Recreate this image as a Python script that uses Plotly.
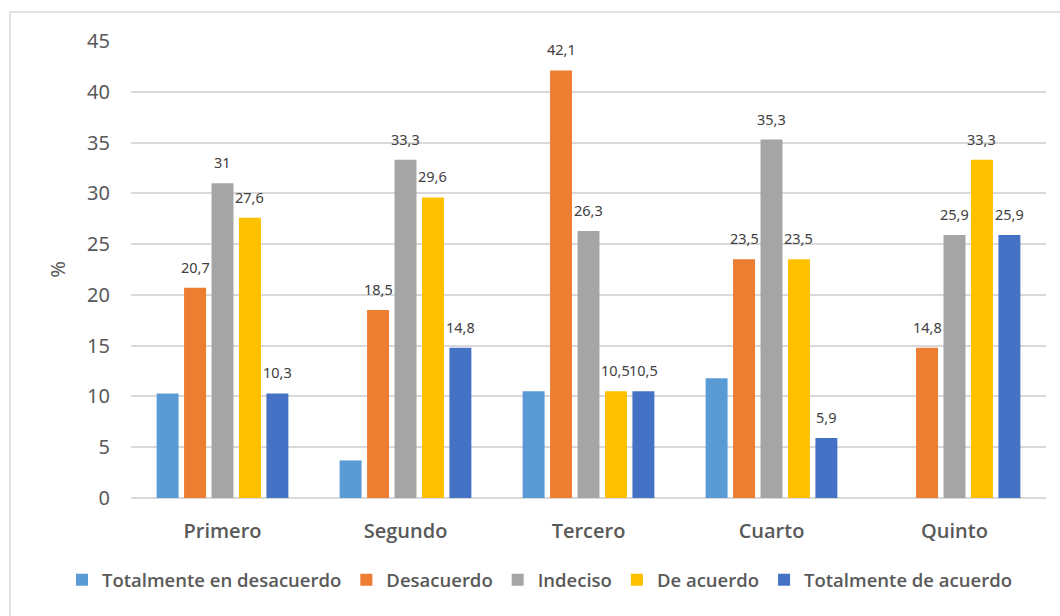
import plotly.graph_objects as go

categories = ["Primero", "Segundo", "Tercero", "Cuarto", "Quinto"]

series_names = [
    "Totalmente en desacuerdo",
    "Desacuerdo",
    "Indeciso",
    "De acuerdo",
    "Totalmente de acuerdo",
]

totalmente_desacuerdo = [10.3, 3.7, 10.5, 11.8, 0]
desacuerdo = [20.7, 18.5, 42.1, 23.5, 14.8]
indeciso = [31, 33.3, 26.3, 35.3, 25.9]
de_acuerdo = [27.6, 29.6, 10.5, 23.5, 33.3]
totalmente_acuerdo = [10.3, 14.8, 10.5, 5.9, 25.9]

series_values = [totalmente_desacuerdo, desacuerdo, indeciso, de_acuerdo, totalmente_acuerdo]
show_labels = [False, True, True, True, True]
colors = ["#5B9BD5", "#ED7D31", "#A5A5A5", "#FFC000", "#4472C4"]

y_ticks = [0, 5, 10, 15, 20, 25, 30, 35, 40, 45]

W, H = 1060, 616
M_L, M_R, M_T, M_B = 131, 14, 41, 118
BARGAP, GROUPGAP = 0.25, 0.2

fig = go.Figure()
for name, vals, col in zip(series_names, series_values, colors):
    fig.add_trace(go.Bar(
        x=categories, y=vals, name=name,
        marker=dict(color=col, line=dict(width=0)),
    ))

# data labels above each bar, shifted horizontally to its slot in the group
plot_w = W - M_L - M_R
slot = plot_w / len(categories) * (1 - BARGAP) / len(series_names)
n = len(series_names)
annotations = []
for i, (vals, show) in enumerate(zip(series_values, show_labels)):
    if not show:
        continue
    xs = (i - (n - 1) / 2) * slot
    for cat, v in zip(categories, vals):
        annotations.append(dict(
            x=cat, y=v, xref="x", yref="y",
            text=f"{v:g}".replace(".", ","),
            showarrow=False, xshift=xs, yshift=21,
            font=dict(family="Noto Sans", size=14.5, color="#404040"),
        ))

# chart frame
frame_x0 = (10 - M_L) / plot_w
frame_y1 = (H - M_B - 12) / (H - M_T - M_B)

# legend starts left of the plot area so it may use the full width
legend_x = (62 - M_L) / plot_w

fig.update_layout(
    width=W, height=H,
    margin=dict(l=M_L, r=M_R, t=M_T, b=M_B, autoexpand=False),
    paper_bgcolor="white", plot_bgcolor="white",
    barmode="group", bargap=BARGAP, bargroupgap=GROUPGAP,
    font=dict(family="Noto Sans", color="#595959"),
    annotations=annotations,
    shapes=[dict(type="rect", xref="paper", yref="paper",
                 x0=frame_x0, x1=1.2, y0=-0.4, y1=frame_y1,
                 line=dict(color="#D9D9D9", width=1.5), layer="below")],
    legend=dict(
        orientation="h", x=legend_x, xanchor="left", y=-0.18, yanchor="middle",
        font=dict(family="Open Sans", size=18.5, color="#595959", weight=600),
        itemwidth=30, traceorder="normal",
    ),
    xaxis=dict(
        showgrid=False, showline=False, ticks="",
        tickfont=dict(family="Open Sans", size=20, color="#595959", weight=600),
        ticklabelstandoff=19,
    ),
    yaxis=dict(
        range=[0, 45], tickvals=y_ticks, showline=False, ticks="",
        gridcolor="#D9D9D9", gridwidth=1.5, zeroline=True,
        zerolinecolor="#D9D9D9", zerolinewidth=1.5,
        tickfont=dict(family="Noto Sans", size=20, color="#595959"),
        ticklabelstandoff=20,
        title=dict(text="%", font=dict(family="Noto Sans", size=20, color="#595959"), standoff=16),
    ),
)

fig.write_html("out.html")
